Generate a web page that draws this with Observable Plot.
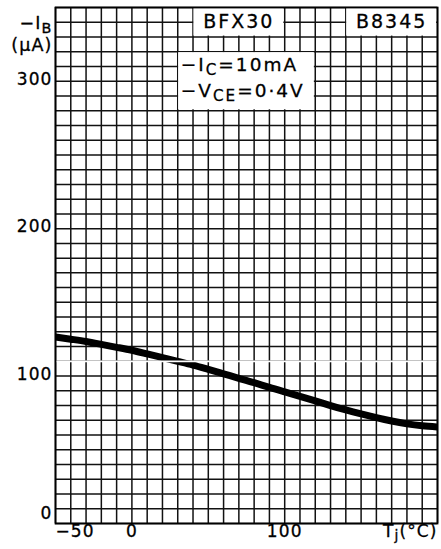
<!DOCTYPE html>
<html><head><meta charset="utf-8">
<script src="https://cdn.jsdelivr.net/npm/d3@7"></script>
<script src="https://cdn.jsdelivr.net/npm/@observablehq/plot@0.6"></script>
<style>body{margin:0;background:#fff} svg{display:block}</style>
</head><body><div id="chart"></div>
<script>
// Junction temperature (°C) and base current -I_B (µA)
const temps = [-50,-40,-30,-20,-10,0,10,20,30,40,50,60,70,80,90,100,110,120,130,140,150,160,170,180,190,200];
const ib    = [126.5,125,123.5,121.5,119.5,117.5,115,112.5,110,107.5,104.5,101.5,98.5,95.5,92.3,89.3,86.3,83.2,80,77,74.3,71.8,69.5,67.6,66.3,65.5];

const xTickValues = [-50, 0, 100];
const yTickValues = [100, 200, 300];
const xGrid = d3.range(-50, 201, 10);
const yGrid = d3.range(0, 351, 10);

// Annotation boxes (data units) and their labels
const boxNames = ["BFX30", "B8345", "cond"];
const boxX1 = [40, 140, 30];
const boxX2 = [100, 200, 120];
const boxY1 = [330, 330, 280];
const boxY2 = [350, 350, 320];
const titleLabels = ["BFX30", "B8345"];
const titleX = [70, 170];
const titleY = [340, 340];
const condLabels = ["−I_{C}=10mA", "−V_{CE}=0·4V"];
const condX = [32, 32];
const condY = [311, 293.5];
const yLabelLines = ["−I_{B}", "(μA)"];
const yLabelY = [339, 324];

const data = temps.map((t, i) => ({t, ib: ib[i]}));
const boxes = boxNames.map((n, i) => ({n, x1: boxX1[i], x2: boxX2[i], y1: boxY1[i], y2: boxY2[i]}));
const titles = titleLabels.map((s, i) => ({s, x: titleX[i], y: titleY[i]}));
const conds = condLabels.map((s, i) => ({s, x: condX[i], y: condY[i]}));
const ylab = yLabelLines.map((s, i) => ({s, y: yLabelY[i]}));

const font = "DejaVu Sans";
const chart = Plot.plot({
  width: 441, height: 549,
  marginLeft: 55, marginRight: 4, marginTop: 7, marginBottom: 26,
  x: {domain: [-50, 200], axis: null},
  y: {domain: [0, 350], axis: null},
  style: {fontFamily: font, background: "#fff", color: "#000"},
  marks: [
    Plot.ruleX(xGrid, {x: d => d, stroke: "#111", strokeWidth: 1.5}),
    Plot.ruleY(yGrid, {y: d => d, stroke: "#111", strokeWidth: 1.5}),
    Plot.rect(boxes, {x1: "x1", x2: "x2", y1: "y1", y2: "y2", fill: "#fff", inset: 0.9}),
    Plot.line(data, {x: "t", y: "ib", stroke: "#000", strokeWidth: 7, curve: "natural", clip: true}),
    Plot.ruleY([110], {stroke: "#fff", strokeWidth: 1.6}),
    Plot.frame({stroke: "#000", strokeWidth: 1.8}),
    Plot.text(titles, {x: "x", y: "y", text: "s", fontSize: 19}),
    Plot.text(conds, {x: "x", y: "y", text: "s", fontSize: 18.5, textAnchor: "start"}),
    Plot.text(ylab, {frameAnchor: "left", y: "y", text: "s", fontSize: 17.5, textAnchor: "end", dx: -3}),
    Plot.text(yTickValues, {frameAnchor: "left", y: d => d, text: d => String(d), fontSize: 17, textAnchor: "end", dx: -3, dy: -2}),
    Plot.text([0], {frameAnchor: "left", y: d => d, text: d => String(d), fontSize: 17, textAnchor: "end", dx: -3, dy: -10}),
    Plot.text(xTickValues.filter(d => d > -50), {frameAnchor: "bottom", x: d => d, text: d => String(d), fontSize: 17, dy: 13}),
    Plot.text(xTickValues.filter(d => d === -50), {frameAnchor: "bottom", x: d => d, text: d => "−" + Math.abs(d), fontSize: 17, textAnchor: "start", dy: 13}),
    Plot.text(["T_{j}(°C)"], {frameAnchor: "bottom-right", text: d => d, fontSize: 17, textAnchor: "end", dy: 13})
  ]
});

// letter spacing and slight weight to mimic the wide stencil lettering
d3.select(chart).selectAll("text").each(function() {
  let node = this, fs = null;
  while (node && node !== chart && !fs) { fs = node.getAttribute && node.getAttribute("font-size"); node = node.parentNode; }
  const size = parseFloat(fs || 10);
  this.style.letterSpacing = size >= 18 ? "2px" : "1.1px";
  this.style.stroke = "#000";
  this.style.strokeWidth = "0.3px";
});

// subscripts: "X_{sub}" -> tspans
d3.select(chart).selectAll("text").each(function() {
  const s = this.textContent;
  if (!/_\{/.test(s)) return;
  const parts = s.split(/(_\{[^}]*\})/).filter(p => p.length);
  const el = d3.select(this);
  el.text(null);
  let lowered = false;
  for (const p of parts) {
    if (p.startsWith("_{")) {
      el.append("tspan").attr("dy", "0.28em").attr("font-size", "0.82em").text(p.slice(2, -1));
      lowered = true;
    } else {
      const t = el.append("tspan").text(p);
      if (lowered) { t.attr("dy", "-0.23em"); lowered = false; }
    }
  }
});

document.getElementById("chart").append(chart);
</script>
</body></html>
